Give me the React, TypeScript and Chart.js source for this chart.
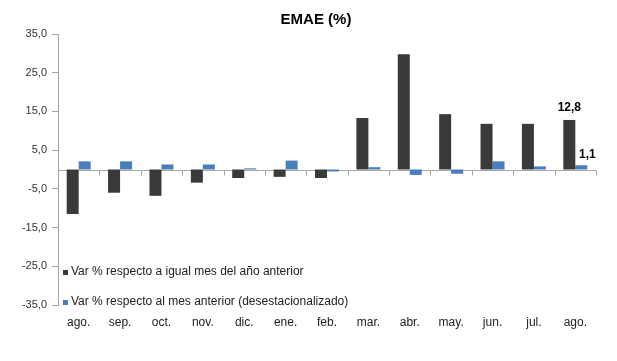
import React, { useEffect, useRef } from "react";
import { Chart, registerables } from "chart.js";

Chart.register(...registerables);

const categories = ["ago.", "sep.", "oct.", "nov.", "dic.", "ene.", "feb.", "mar.", "abr.", "may.", "jun.", "jul.", "ago."];
const interanual = [-11.5, -6.0, -6.8, -3.4, -2.2, -1.9, -2.2, 13.3, 29.8, 14.3, 11.8, 11.8, 12.8];
const mensual = [2.1, 2.1, 1.3, 1.3, 0.3, 2.3, -0.5, 0.6, -1.4, -1.1, 2.1, 0.8, 1.1];
const seriesNames = [
  "Var % respecto a igual mes del año anterior",
  "Var % respecto al mes anterior (desestacionalizado)",
];
const titleText = "EMAE (%)";
const DARK = "#3a3a3a";
const BLUE = "#4a7ebb";
const FONT = "'Liberation Sans', Arial, sans-serif";

const fmt = (v: number) => v.toFixed(1).replace(".", ",");

const customPlugin = {
  id: "custom",
  beforeDatasetsDraw(chart: any) {
    const { ctx, chartArea, scales } = chart;
    const y0 = Math.round(scales.y.getPixelForValue(0)) + 0.5;
    ctx.save();
    ctx.strokeStyle = "#a6a6a6";
    ctx.lineWidth = 1;
    ctx.beginPath();
    ctx.moveTo(chartArea.left, y0);
    ctx.lineTo(chartArea.right, y0);
    const n = categories.length;
    const w = (chartArea.right - chartArea.left) / n;
    for (let i = 1; i <= n; i++) {
      const x = Math.round(chartArea.left + i * w) + 0.5;
      ctx.moveTo(x, y0);
      ctx.lineTo(x, y0 + 5);
    }
    ctx.stroke();
    ctx.restore();
  },
  afterDraw(chart: any) {
    const { ctx } = chart;
    ctx.save();
    // title
    ctx.fillStyle = "#000";
    ctx.font = `bold 15px ${FONT}`;
    ctx.textAlign = "center";
    ctx.textBaseline = "middle";
    ctx.fillText(titleText, 316, 20);
    // data labels on last category
    const last = categories.length - 1;
    const m0 = chart.getDatasetMeta(0).data[last];
    const m1 = chart.getDatasetMeta(1).data[last];
    ctx.font = `bold 12px ${FONT}`;
    ctx.textBaseline = "alphabetic";
    ctx.fillText(fmt(interanual[last]), m0.x, m0.y - 9);
    ctx.fillText(fmt(mensual[last]), m1.x + 6, m1.y - 7);
    // legend
    const colors = [DARK, BLUE];
    const ys = [272, 302];
    ctx.font = `12px ${FONT}`;
    ctx.textAlign = "left";
    ctx.textBaseline = "middle";
    for (let i = 0; i < 2; i++) {
      ctx.fillStyle = colors[i];
      ctx.fillRect(63, ys[i] - 2, 5, 5);
      ctx.fillStyle = "#222";
      ctx.fillText(seriesNames[i], 71, ys[i]);
    }
    ctx.restore();
  },
};

export default function App() {
  const ref = useRef<HTMLCanvasElement>(null);
  useEffect(() => {
    document.body.style.margin = "0";
    const chart = new Chart(ref.current as HTMLCanvasElement, {
      type: "bar",
      data: {
        labels: categories,
        datasets: [
          { label: seriesNames[0], data: interanual, backgroundColor: DARK, categoryPercentage: 0.58, barPercentage: 1.0 },
          { label: seriesNames[1], data: mensual, backgroundColor: BLUE, categoryPercentage: 0.58, barPercentage: 1.0 },
        ],
      },
      options: {
        responsive: false,
        animation: false,
        layout: { padding: { top: 34, right: 21, bottom: 0, left: 0 } },
        plugins: { legend: { display: false }, title: { display: false }, tooltip: { enabled: false } },
        scales: {
          x: {
            grid: { display: false },
            border: { display: false },
            ticks: { color: "#222", font: { family: FONT, size: 12 }, padding: 2, maxRotation: 0, autoSkip: false },
            afterFit: (s: any) => { s.height = 56; },
          },
          y: {
            min: -35,
            max: 35,
            ticks: {
              stepSize: 10,
              color: "#333",
              font: { family: FONT, size: 11 },
              padding: 5,
              callback: (v: any) => fmt(Number(v)),
            },
            grid: { drawOnChartArea: false, drawTicks: true, tickLength: 6, color: "#a6a6a6" },
            border: { display: true, color: "#a6a6a6" },
            afterFit: (s: any) => { s.width = 58; },
          },
        },
      },
      plugins: [customPlugin],
    });
    return () => chart.destroy();
  }, []);
  return (
    <div style={{ position: "fixed", left: 0, top: 0, width: 617, height: 361, background: "#fff" }}>
      <canvas ref={ref} width={617} height={361} style={{ width: 617, height: 361 }} />
    </div>
  );
}
